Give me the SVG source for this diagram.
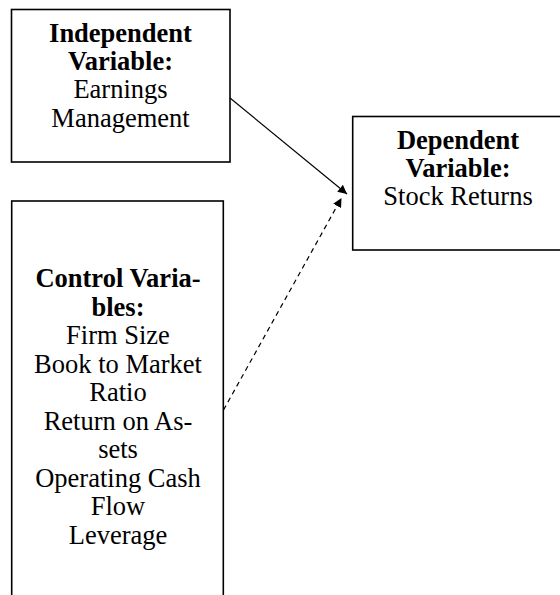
<svg xmlns="http://www.w3.org/2000/svg" width="560" height="595" viewBox="0 0 560 595">
<defs>
<style>
.box{fill:#fff;stroke:#000;stroke-width:1.6}
text{font-family:"Liberation Serif","Times New Roman",serif;font-size:26.5px;fill:#000;text-anchor:middle}
.b{font-weight:bold}
.conn{stroke:#000;stroke-width:1.2;fill:none}
</style>
<marker id="ah" viewBox="0 0 10 10" refX="10" refY="5" markerWidth="9" markerHeight="9" markerUnits="userSpaceOnUse" orient="auto">
<path d="M0,0 L10,5 L0,10 z" fill="#000"/>
</marker>
</defs>
<rect width="560" height="595" fill="#fff"/>
<g id="independent">
<rect class="box" x="11.5" y="9.5" width="218.5" height="152.5"/>
<text x="120.5" y="42.3" class="b">Independent</text>
<text x="120.5" y="70" class="b">Variable:</text>
<text x="120.5" y="97.7">Earnings</text>
<text x="120.5" y="126.5">Management</text>
</g>
<g id="dependent">
<rect class="box" x="352.7" y="116.5" width="220" height="133.5"/>
<text x="458" y="149.3" class="b">Dependent</text>
<text x="458" y="176.8" class="b">Variable:</text>
<text x="458" y="205">Stock Returns</text>
</g>
<g id="control">
<rect class="box" x="11.7" y="201" width="211.6" height="410"/>
<text x="118" y="287.3" class="b">Control Varia-</text>
<text x="118" y="315.8" class="b">bles:</text>
<text x="118" y="344.3">Firm Size</text>
<text x="118" y="372.8">Book to Market</text>
<text x="118" y="401.3">Ratio</text>
<text x="118" y="429.8">Return on As-</text>
<text x="118" y="458.3">sets</text>
<text x="118" y="486.8">Operating Cash</text>
<text x="118" y="515.3">Flow</text>
<text x="118" y="543.8">Leverage</text>
</g>
<g id="connectors">
<line class="conn" x1="230" y1="98" x2="347" y2="194" marker-end="url(#ah)"/>
<line class="conn" x1="223.5" y1="410" x2="341.5" y2="198" stroke-dasharray="5,4" marker-end="url(#ah)"/>
</g>
</svg>
